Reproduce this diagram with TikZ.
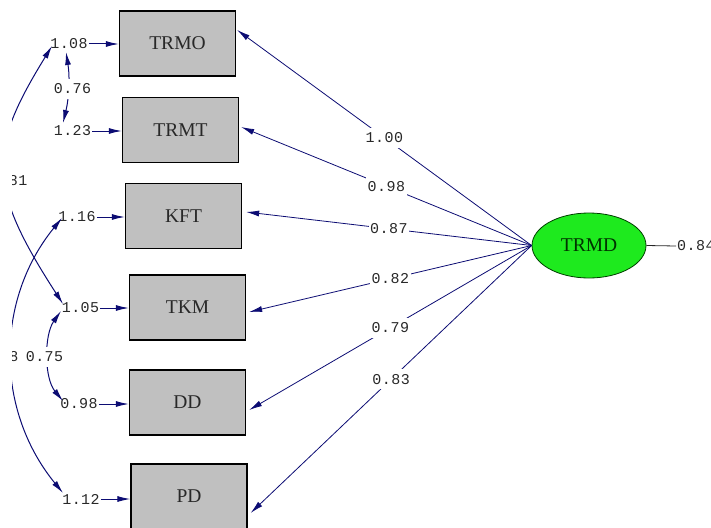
\documentclass[tikz,border=0pt]{standalone}
\usepackage{fontspec}
\usetikzlibrary{arrows.meta,calc,shapes.geometric}
\newfontfamily\numfont[LetterSpace=3]{Liberation Mono}
\newfontfamily\varfont{Liberation Serif}
\definecolor{pathblue}{RGB}{12,12,115}
\definecolor{boxgray}{RGB}{192,192,192}
\definecolor{latgreen}{RGB}{30,234,30}
\definecolor{inktext}{RGB}{40,40,40}

\begin{document}
\begin{tikzpicture}[x=1pt,y=1pt,
  obsbox/.style={draw=black,line width=1.3pt,fill=boxgray,
    minimum width=116pt,minimum height=65pt,inner sep=0pt,
    font=\varfont\fontsize{19.5}{19.5}\selectfont,text=inktext},
  latent/.style={ellipse,draw=black!75!green,line width=0.8pt,fill=latgreen,
    minimum width=114pt,minimum height=65pt,inner sep=0pt,
    font=\varfont\fontsize{19.5}{19.5}\selectfont,text=black!80!green},
  num/.style={inner sep=1pt,font=\numfont\fontsize{15}{15}\selectfont,text=inktext},
  lbl/.style={num,fill=white,inner xsep=1.5pt,inner ysep=5pt},
  tip/.style={-{Latex[length=13pt,width=6pt]}},
  path/.style={draw=pathblue,line width=0.8pt,tip},
  errpath/.style={draw=pathblue,line width=1pt,tip},
  cov/.style={draw=pathblue,line width=1pt,
    {Latex[length=13pt,width=6pt]}-{Latex[length=13pt,width=6pt]}}
]
\useasboundingbox (0,0) rectangle (711,-527);
\begin{scope}
\clip (12,0) rectangle (711,-527);

% observed indicators
\node[obsbox] (b1) at (177.5,-43.5) {TRMO};
\node[obsbox] (b2) at (180.5,-130) {TRMT};
\node[obsbox] (b3) at (183.5,-216) {KFT};
\node[obsbox] (b4) at (187.5,-307.5) {TKM};
\node[obsbox] (b5) at (187.5,-402.5) {DD};
\node[obsbox] (b6) at (189,-496.5) {PD};

% latent factor
\node[latent] (T) at (589,-245.5) {TRMD};

% error variances
\node[num] (e1) at (69,-44) {1.08};
\node[num] (e2) at (72.5,-131) {1.23};
\node[num] (e3) at (77,-217) {1.16};
\node[num] (e4) at (80.5,-308) {1.05};
\node[num] (e5) at (79,-404) {0.98};
\node[num] (e6) at (81,-499) {1.12};

\foreach \i in {1,...,6}
  \draw[errpath] (e\i.east) -- (e\i.east -| b\i.west);

% factor loadings
\draw[path] (T.west) -- node[lbl,midway]{1.00} ($(b1.east)+(1,13.5)$);
\draw[path] (T.west) -- node[lbl,midway]{0.98} ($(b2.east)+(2,3)$);
\draw[path] (T.west) -- node[lbl,midway]{0.87} ($(b3.east)+(4,4)$);
\draw[path] (T.west) -- node[lbl,midway]{0.82} ($(b4.east)+(3,-4.5)$);
\draw[path] (T.west) -- node[lbl,midway]{0.79} ($(b5.east)+(3,-7.5)$);
\draw[path] (T.west) -- node[lbl,midway]{0.83} ($(b6.east)+(3,-16.5)$);

% residual of the factor
\node[num,anchor=west] (n0) at (676,-246) {0.84};
\draw[black!85,line width=0.8pt] (T.east) -- (n0.west);

% error covariances
\draw[cov] ($(e1)+(-3,-8)$) .. controls +(4,-25) and +(6,25) .. ($(e2)+(-9.5,8)$);
\draw[cov] ($(e1)+(-17,-2)$) .. controls +(-64,-104) and +(-77,119) .. ($(e4)+(-17.5,4)$);
\draw[cov] ($(e3)+(-15,-1)$) .. controls +(-67,-82) and +(-68,83) .. ($(e6)+(-18,6)$);
\draw[cov] ($(e4)+(-19.5,-3)$) .. controls +(-17,-24) and +(-19,23) .. ($(e5)+(-16,3)$);

\node[lbl] (c12) at (72.5,-89) {0.76};
\node[lbl,anchor=east] (c14) at (29,-180.5) {0.81};
\node[lbl,anchor=east] (c36) at (20,-357) {0.68};
\node[lbl] (c45) at (44.5,-357) {0.75};
\end{scope}
\end{tikzpicture}
\end{document}
